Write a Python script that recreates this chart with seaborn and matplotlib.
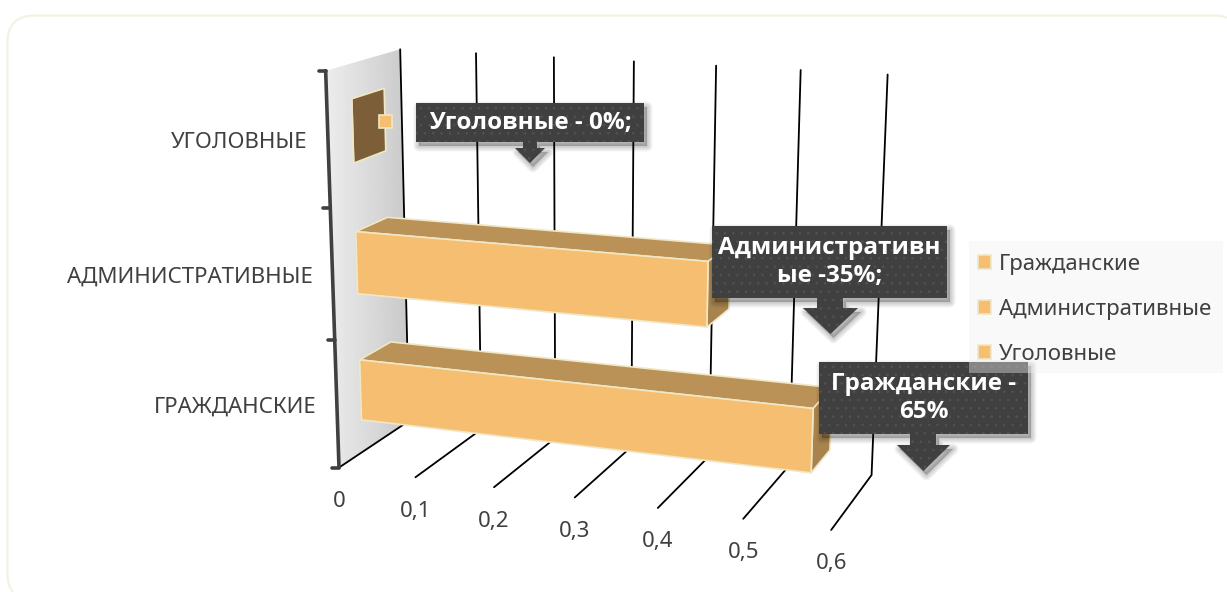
import numpy as np
import matplotlib
matplotlib.use("Agg")
import matplotlib.pyplot as plt
import matplotlib.transforms as mtransforms
from matplotlib.patches import Polygon, Rectangle, FancyBboxPatch, Patch
import seaborn as sns

categories = ['Уголовные', 'Административные', 'Гражданские']
category_labels = ['УГОЛОВНЫЕ', 'АДМИНИСТРАТИВНЫЕ', 'ГРАЖДАНСКИЕ']
values = [0.0, 0.435, 0.56]
value_ticks = [0, 0.1, 0.2, 0.3, 0.4, 0.5, 0.6]
value_tick_labels = ['0', '0,1', '0,2', '0,3', '0,4', '0,5', '0,6']
legend_labels = ['Гражданские', 'Административные', 'Уголовные']
callout_texts = ['Уголовные - 0%;', 'Административн\nые -35%;', 'Гражданские -\n65%']

FRONT = '#F6BE70'
TOP = '#BA9156'
SIDES = ['#7C5F38', '#A8834E', '#A8834E']
EDGE = '#EFE7C6'
DARK = '#404040'
FONT = ['Noto Sans', 'DejaVu Sans']
D0, D1 = 0.32, 0.76

# picture calibration of the 3d box: (value, category position, depth) -> pixel
calib = [
    (0, 2.5, 0, 340, 465), (0.1, 2.5, 0, 416, 476), (0.2, 2.5, 0, 494, 487),
    (0.3, 2.5, 0, 575, 497), (0.4, 2.5, 0, 658, 508), (0.5, 2.5, 0, 743, 520),
    (0.6, 2.5, 0, 832, 532), (0, 2.5, 1, 408, 425), (0.6, 2.5, 1, 871, 472),
    (0, -0.5, 1, 403, 46), (0.1, -0.5, 1, 476, 53), (0.2, -0.5, 1, 554, 58),
    (0.3, -0.5, 1, 633, 63), (0.4, -0.5, 1, 715, 66), (0.5, -0.5, 1, 800, 70),
    (0.6, -0.5, 1, 889, 74), (0, -0.5, 0, 325, 72), (0, 0.5, 0, 329, 208),
    (0, 1.5, 0, 334, 340),
]
rows, rhs = [], []
for a, b, c, u, w in calib:
    rows.append([a, b, c, 1, 0, 0, 0, 0, -u * a, -u * b, -u * c])
    rows.append([0, 0, 0, 0, a, b, c, 1, -w * a, -w * b, -w * c])
    rhs += [u, w]
P = np.append(np.linalg.lstsq(np.array(rows, float), np.array(rhs, float), rcond=None)[0], 1).reshape(3, 4)


def project(v, c, d):
    v, c, d = np.broadcast_arrays(np.asarray(v, float), np.asarray(c, float), np.asarray(d, float))
    h = P @ np.stack([v, c, d, np.ones_like(v)])
    return np.stack([h[0] / h[2], h[1] / h[2]], axis=-1)


class DepthPlane(mtransforms.Transform):
    input_dims = 2
    output_dims = 2

    def __init__(self, plane_depth):
        super().__init__()
        self.plane_depth = plane_depth

    def transform_non_affine(self, xy):
        xy = np.asarray(xy, float)
        return project(xy[:, 0], xy[:, 1], self.plane_depth)


def face(corners, color, z):
    ax.add_patch(Polygon(project(*np.array(corners).T), closed=True, facecolor=color,
                         edgecolor=EDGE, linewidth=1.2, joinstyle='round', zorder=z))


def callout(x0, x1, y0, y1, sx0, sx1, hx0, hx1, neck, tip, text, size):
    pts = np.array([(x0, y0), (x1, y0), (x1, y1), (sx1, y1), (sx1, neck), (hx1, neck),
                    ((hx0 + hx1) / 2, tip), (hx0, neck), (sx0, neck), (sx0, y1), (x0, y1)], float)
    # soft shadow from a few wide translucent copies
    for lw in (8, 6.5, 5, 3.5, 2, 0.5):
        ax.add_patch(Polygon(pts + [3, 4], closed=True, facecolor='black', edgecolor='black', linewidth=lw,
                             alpha=0.04, joinstyle='round', zorder=7.5))
    ax.add_patch(Polygon(pts, closed=True, facecolor=DARK, edgecolor='#525252', linewidth=0, hatch='..', zorder=8))
    ax.text((x0 + x1) / 2, (y0 + y1) / 2, text, color='white', fontsize=size, fontweight='bold', ha='center',
            va='center', linespacing=1.2, family=['Open Sans', 'DejaVu Sans'], zorder=9)


sns.set_theme(style="white")
plt.rcParams['font.family'] = FONT
plt.rcParams['hatch.linewidth'] = 0.6

fig = plt.figure(figsize=(12.27, 5.92), dpi=100, facecolor='white')
ax = fig.add_axes([0, 0, 1, 1])
sns.barplot(x=values, y=categories, order=categories, orient='h', width=0.48, color=FRONT, saturation=1, ax=ax)
bars = list(ax.patches)
ax.set_xlim(0, 1227)
ax.set_ylim(592, 0)
ax.axis('off')

# card
ax.add_patch(FancyBboxPatch((7.5, 15.5), 1234, 585, boxstyle='round,pad=0,rounding_size=27',
                            facecolor='white', edgecolor='#F5F2E3', linewidth=1.6, zorder=0))

# wall with a grey gradient
wall = Polygon(project([0, 0, 0, 0], [-0.5, 2.5, 2.5, -0.5], [0, 0, 1, 1]), closed=True, facecolor='none', edgecolor='none', zorder=1)
ax.add_patch(wall)
grad = np.linspace(0.93, 0.79, 64).reshape(1, -1)
img = ax.imshow(grad, cmap='gray', vmin=0, vmax=1, extent=(325, 408, 465, 46), aspect='auto', zorder=1)
img.set_clip_path(wall)
ax.set_xlim(0, 1227)
ax.set_ylim(592, 0)

# grid
for v in value_ticks:
    a, b = project(v, 2.5, 0), project(v, 2.5, 1)
    t = project(v, -0.5, 1)
    ax.plot([a[0], b[0], t[0]], [a[1], b[1], t[1]], color='black', lw=1.3, zorder=2, solid_joinstyle='miter')

# category axis with ticks
edges = [-0.5, 0.5, 1.5, 2.5]
axis_pts = project(0, edges, 0)
ax.plot(axis_pts[:, 0], axis_pts[:, 1], color=DARK, lw=2.6, zorder=3)
for p in axis_pts:
    ax.plot([p[0] - 7, p[0]], [p[1], p[1]], color=DARK, lw=2.6, zorder=3)

# bars: the seaborn rectangle is the front face, top and side come from its bounds
for bar, side in zip(bars, SIDES):
    v = bar.get_x() + bar.get_width()
    y0, y1 = sorted([bar.get_y(), bar.get_y() + bar.get_height()])
    face([(0, y0, D0), (v, y0, D0), (v, y0, D1), (0, y0, D1)], TOP, 4)
    face([(v, y0, D0), (v, y1, D0), (v, y1, D1), (v, y0, D1)], side, 4)
    bar.set_transform(DepthPlane(D0) + ax.transData)
    bar.set_clip_on(False)
    bar.set_edgecolor(EDGE)
    bar.set_linewidth(1.2)
    bar.set_zorder(5)

# value labels and category labels
for v, lab in zip(value_ticks, value_tick_labels):
    p = project(v, 2.5, 0)
    ax.text(p[0], p[1] + 34, lab, color=DARK, fontsize=16, ha='center', va='center', zorder=6)
for i, lab in enumerate(category_labels):
    p = project(0, i, 0)
    ax.text(p[0] - 20, p[1] + 3, lab, color=DARK, fontsize=16, ha='right', va='center', zorder=6)

# data label callouts
ax.add_patch(Rectangle((379, 115), 13, 13, facecolor=FRONT, edgecolor=EDGE, linewidth=1.2, zorder=7))
callout(416, 644, 103, 142, 523, 537, 515, 545, 148, 163, callout_texts[0], 17.5)
callout(712, 947, 226, 298, 817, 843, 803, 858, 308, 334, callout_texts[1], 17.5)
callout(819, 1028, 362, 434, 910, 936, 897, 950, 445, 471, callout_texts[2], 17.5)

# legend
ax.add_patch(Rectangle((969, 241), 254, 132, facecolor='#F0F0F0', edgecolor='none', alpha=0.4, zorder=10))
handles = [Patch(facecolor=FRONT, edgecolor=EDGE, linewidth=1.2) for _ in legend_labels]
ax.legend(handles, legend_labels, loc='upper left', bbox_to_anchor=(978, 254), bbox_transform=ax.transData, frameon=False,
          fontsize=16, labelcolor=DARK, handlelength=0.6, handleheight=0.6, handletextpad=0.36, labelspacing=1.07,
          borderpad=0, borderaxespad=0).set_zorder(11)

fig.savefig('out.png', dpi=100)
plt.close(fig)
